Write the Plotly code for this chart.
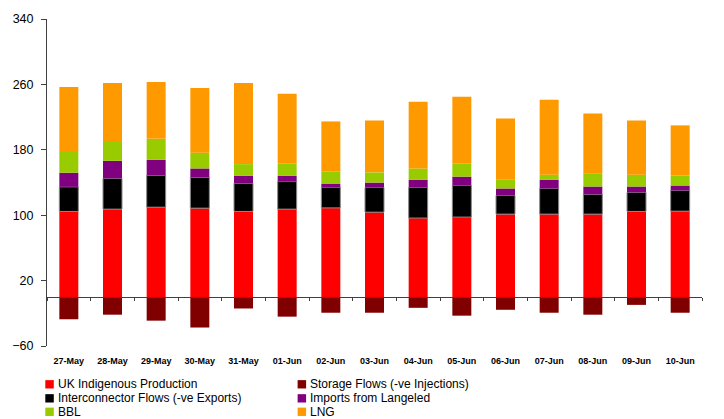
import plotly.graph_objects as go

# Daily gas supply by source (mcm/d)
dates = ["27-May", "28-May", "29-May", "30-May", "31-May", "01-Jun", "02-Jun", "03-Jun",
         "04-Jun", "05-Jun", "06-Jun", "07-Jun", "08-Jun", "09-Jun", "10-Jun"]
uk_production = [104.6, 107.4, 109.8, 108.6, 104.6, 107.4, 108.9, 103.7,
                 96.5, 97.7, 101.3, 101.3, 101.3, 104.6, 104.9]
interconnector = [30.1, 37.7, 38.9, 37.7, 34.5, 33.7, 25.0, 30.2,
                  37.4, 38.6, 22.9, 31.4, 24.2, 23.3, 25.4]
langeled = [17.3, 21.4, 19.0, 10.9, 9.3, 7.3, 4.8, 6.0,
            9.6, 10.9, 8.5, 10.8, 9.6, 7.2, 6.0]
bbl = [25.3, 24.4, 25.7, 19.3, 14.1, 14.4, 14.5, 12.5,
       13.7, 15.6, 10.8, 6.1, 15.7, 14.5, 12.1]
lng = [79.6, 70.9, 69.6, 79.2, 99.3, 85.7, 61.5, 63.5,
       81.6, 82.1, 74.8, 91.7, 73.6, 66.3, 61.5]
storage = [-27.3, -21.7, -29.0, -37.4, -14.1, -24.1, -19.3, -19.3,
           -13.3, -22.9, -15.7, -19.3, -21.7, -9.7, -19.3]

y_ticks = [-60, 20, 100, 180, 260, 340]

FONT = "Liberation Sans, Arial, sans-serif"
W, H = 724, 419
ML, MR, MT, MB = 46, 22, 13, 73
PW, PH = W - ML - MR, H - MT - MB

# (name, values, colour, x-axis) - storage sits on the overlaid axis drawn at zero
series = [
    ("UK Indigenous Production", uk_production, "#FF0000", "x"),
    ("Interconnector Flows (-ve Exports)", interconnector, "#000000", "x"),
    ("Imports from Langeled", langeled, "#800080", "x"),
    ("BBL", bbl, "#99CC00", "x"),
    ("LNG", lng, "#FF9900", "x"),
    ("Storage Flows (-ve Injections)", storage, "#800000", "x2"),
]

fig = go.Figure()
for name, vals, col, xa in series:
    line = dict(width=1, color="#8a8a8a") if col == "#000000" else dict(width=0)
    fig.add_trace(go.Bar(x=dates, y=vals, name=name, xaxis=xa, yaxis="y",
                         marker=dict(color=col, line=line), showlegend=False))

# Legend drawn as two columns of swatches and labels below the axis
legend_order = [
    ("UK Indigenous Production", "#FF0000"), ("Storage Flows (-ve Injections)", "#800000"),
    ("Interconnector Flows (-ve Exports)", "#000000"), ("Imports from Langeled", "#800080"),
    ("BBL", "#99CC00"), ("LNG", "#FF9900"),
]
col_x = [44.3, 297.0]
row_y = [385.0, 399.3, 413.0]
sw = 8.5


def px_x(p):
    return (p - ML) / PW


def px_y(p):
    return (H - MB - p) / PH


shapes, annotations = [], []
for i, (label, col) in enumerate(legend_order):
    cx, cy = col_x[i % 2], row_y[i // 2]
    shapes.append(dict(type="rect", xref="paper", yref="paper",
                       x0=px_x(cx), x1=px_x(cx + sw),
                       y0=px_y(cy - sw / 2), y1=px_y(cy + sw / 2),
                       fillcolor=col, line=dict(width=0)))
    annotations.append(dict(xref="paper", yref="paper", x=px_x(cx + 11.5), y=px_y(cy),
                            xanchor="left", yanchor="middle", text=label, showarrow=False,
                            borderpad=0,
                            font=dict(family=FONT, size=12, color="#000000")))

cat_range = [-0.5, len(dates) - 0.5]
fig.update_layout(
    width=W, height=H,
    margin=dict(l=ML, r=MR, t=MT, b=MB),
    paper_bgcolor="white", plot_bgcolor="white",
    barmode="relative", bargap=0.565,
    font=dict(family=FONT, color="#000000"),
    xaxis=dict(type="category", categoryarray=dates, range=cat_range, showline=False,
               ticks="", showgrid=False, zeroline=False, ticklabelstandoff=8,
               tickfont=dict(family=FONT, size=9, color="#000000", weight="bold")),
    xaxis2=dict(type="category", categoryarray=dates, overlaying="x", anchor="free",
                position=(0 - y_ticks[0]) / (y_ticks[-1] - y_ticks[0]),
                range=cat_range, tickson="boundaries",
                ticks="outside", ticklen=3, tickcolor="#404040", showline=True,
                linecolor="#404040", linewidth=1, showticklabels=False,
                showgrid=False, zeroline=False, layer="above traces"),
    yaxis=dict(range=[y_ticks[0], y_ticks[-1]], tickmode="array", tickvals=y_ticks,
               ticks="outside", ticklen=5, tickcolor="#404040", showline=True,
               linecolor="#404040", linewidth=1, showgrid=False, zeroline=False,
               ticklabelstandoff=5,
               tickfont=dict(family=FONT, size=12.5, color="#000000")),
    shapes=shapes, annotations=annotations,
)

fig.write_html("out.html")
